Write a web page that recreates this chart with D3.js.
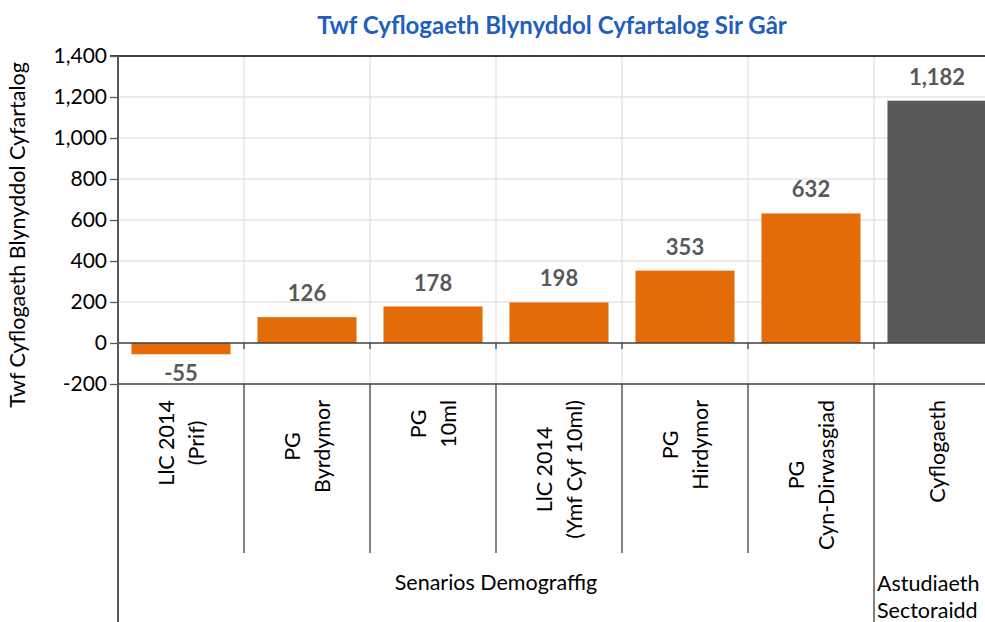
<!DOCTYPE html>
<html>
<head>
<meta charset="utf-8">
<script src="https://cdn.jsdelivr.net/npm/d3@7"></script>
<style>
  body { margin: 0; background: #fff; }
  svg { display: block; font-family: Lato, "Open Sans", sans-serif; }
</style>
</head>
<body>
<div id="d3-container"></div>
<script>
// CONST and GLOBALS
const width = 985,
  height = 622,
  margin = { top: 56, left: 118, right: -15 },
  zeroY = 343;

// data
const categories = ['LlC 2014 (Prif)', 'PG Byrdymor', 'PG 10ml', 'LlC 2014 (Ymf Cyf 10ml)', 'PG Hirdymor', 'PG Cyn-Dirwasgiad', 'Cyflogaeth'];
const catLines = [['LlC 2014', '(Prif)'], ['PG', 'Byrdymor'], ['PG', '10ml'], ['LlC 2014', '(Ymf Cyf 10ml)'], ['PG', 'Hirdymor'], ['PG', 'Cyn-Dirwasgiad'], ['Cyflogaeth']];
const values = [-55, 126, 178, 198, 353, 632, 1182];
const groups = ['Senarios Demograffig', 'Senarios Demograffig', 'Senarios Demograffig', 'Senarios Demograffig', 'Senarios Demograffig', 'Senarios Demograffig', 'Astudiaeth Sectoraidd'];
const yTicks = [-200, 0, 200, 400, 600, 800, 1000, 1200, 1400];

const orange = '#e36c09',
  grey = '#595959',
  axisCol = '#595959';

// hyphen minus like the original
const fmt = d => d3.format(',')(d).replace('\u2212', '-');

const svg = d3
  .select('#d3-container')
  .append('svg')
  .attr('width', width)
  .attr('height', height);

// SCALES
const yScale = d3.scaleLinear().domain([-200, 1400]).range([384, margin.top]);

const xScale = d3
  .scaleBand()
  .domain(categories)
  .range([margin.left, width - margin.right])
  .paddingInner(0.214)
  .paddingOuter(0.107);

const step = xScale.step();
const bandLeft = i => margin.left + i * step;

// gridlines (horizontal)
svg
  .append('g')
  .selectAll('line')
  .data(yTicks.filter(d => d !== 0 && d !== -200 && d !== 1400))
  .join('line')
  .attr('x1', margin.left)
  .attr('x2', width)
  .attr('y1', d => yScale(d))
  .attr('y2', d => yScale(d))
  .attr('stroke', '#d9d9d9');

// gridlines (vertical in plot)
svg
  .append('g')
  .selectAll('line')
  .data(d3.range(1, categories.length))
  .join('line')
  .attr('x1', i => bandLeft(i))
  .attr('x2', i => bandLeft(i))
  .attr('y1', yScale(1400))
  .attr('y2', yScale(-200))
  .attr('stroke', '#d9d9d9');

// category dividers below axis
svg
  .append('g')
  .selectAll('line')
  .data(d3.range(1, categories.length))
  .join('line')
  .attr('x1', i => bandLeft(i))
  .attr('x2', i => bandLeft(i))
  .attr('y1', yScale(-200))
  .attr('y2', i => (groups[i] !== groups[i - 1] ? height : 553))
  .attr('stroke', '#404040')
  .attr('stroke-width', 1.3);

// small ticks below the zero line
svg
  .append('g')
  .selectAll('line')
  .data(d3.range(1, categories.length))
  .join('line')
  .attr('x1', i => bandLeft(i))
  .attr('x2', i => bandLeft(i))
  .attr('y1', yScale(0))
  .attr('y2', yScale(0) + 6)
  .attr('stroke', '#404040')
  .attr('stroke-width', 1.3);

// bars
svg
  .selectAll('.bar')
  .data(values)
  .join('rect')
  .attr('class', 'bar')
  .attr('x', (d, i) => xScale(categories[i]))
  .attr('width', xScale.bandwidth())
  .attr('y', d => yScale(Math.max(0, d)))
  .attr('height', d => Math.abs(yScale(d) - yScale(0)))
  .attr('fill', (d, i) => (groups[i] === 'Astudiaeth Sectoraidd' ? grey : orange));

// zero, bottom and top lines
svg
  .append('g')
  .selectAll('line')
  .data([0, -200, 1400])
  .join('line')
  .attr('x1', d => (d === 1400 ? margin.left - 8 : margin.left))
  .attr('x2', width)
  .attr('y1', d => yScale(d))
  .attr('y2', d => yScale(d))
  .attr('stroke', d => (d === 1400 ? '#000' : '#404040'))
  .attr('stroke-width', 1.3);

// value labels
svg
  .selectAll('.vlabel')
  .data(values)
  .join('text')
  .attr('class', 'vlabel')
  .attr('x', (d, i) => xScale(categories[i]) + xScale.bandwidth() / 2)
  .attr('y', d => (d < 0 ? yScale(d) + 27 : yScale(d) - 16))
  .attr('text-anchor', 'middle')
  .attr('font-size', 22)
  .attr('font-weight', 'bold')
  .attr('fill', grey)
  .text(d => fmt(d));

// y axis
const yAxis = d3.axisLeft(yScale).tickValues(yTicks).tickSize(8).tickFormat(fmt);
const yG = svg
  .append('g')
  .attr('transform', `translate(${margin.left},0)`)
  .call(yAxis);
yG.select('.domain').remove();
yG.selectAll('.tick line').attr('stroke', axisCol).attr('stroke-width', 1.3);
yG.selectAll('.tick text')
  .attr('font-size', 21)
  .attr('font-family', 'Lato, sans-serif')
  .attr('fill', '#000')
  .attr('x', -11);

// left axis line
svg
  .append('line')
  .attr('x1', margin.left)
  .attr('x2', margin.left)
  .attr('y1', margin.top)
  .attr('y2', height)
  .attr('stroke', axisCol)
  .attr('stroke-width', 2);

// category labels (rotated, block top-aligned at y=400)
const catG = svg
  .selectAll('.cat')
  .data(catLines)
  .join('g')
  .attr('class', 'cat');

catG.each(function (lines, i) {
  const g = d3.select(this);
  const cx = bandLeft(i) + step / 2;
  const lh = 30;
  const texts = lines.map(t =>
    g
      .append('text')
      .attr('font-size', 21.5)
      .attr('fill', '#000')
      .attr('text-anchor', 'middle')
      .attr('dominant-baseline', 'central')
      .text(t)
  );
  const maxW = d3.max(texts, t => t.node().getComputedTextLength());
  const cy = 400 + maxW / 2;
  texts.forEach((t, j) => {
    const off = (j - (lines.length - 1) / 2) * lh;
    t.attr('transform', `translate(${cx + off},${cy}) rotate(-90)`);
  });
});

// group labels
svg
  .append('text')
  .attr('x', (bandLeft(0) + bandLeft(6)) / 2)
  .attr('y', 590)
  .attr('text-anchor', 'middle')
  .attr('font-size', 21.5)
  .text('Senarios Demograffig');

svg
  .append('text')
  .attr('font-size', 21.5)
  .selectAll('tspan')
  .data(['Astudiaeth', 'Sectoraidd'])
  .join('tspan')
  .attr('x', bandLeft(6) + 3)
  .attr('y', (d, i) => 591 + i * 27)
  .text(d => d);

// y axis title
svg
  .append('text')
  .attr('transform', `translate(25,235) rotate(-90)`)
  .attr('text-anchor', 'middle')
  .attr('font-size', 21.5)
  .text('Twf Cyflogaeth Blynyddol Cyfartalog');

// title
svg
  .append('text')
  .attr('x', 552)
  .attr('y', 34)
  .attr('text-anchor', 'middle')
  .attr('font-size', 24)
  .attr('font-weight', 'bold')
  .attr('fill', '#1f5fbf')
  .text('Twf Cyflogaeth Blynyddol Cyfartalog Sir Gâr');
</script>
</body>
</html>
